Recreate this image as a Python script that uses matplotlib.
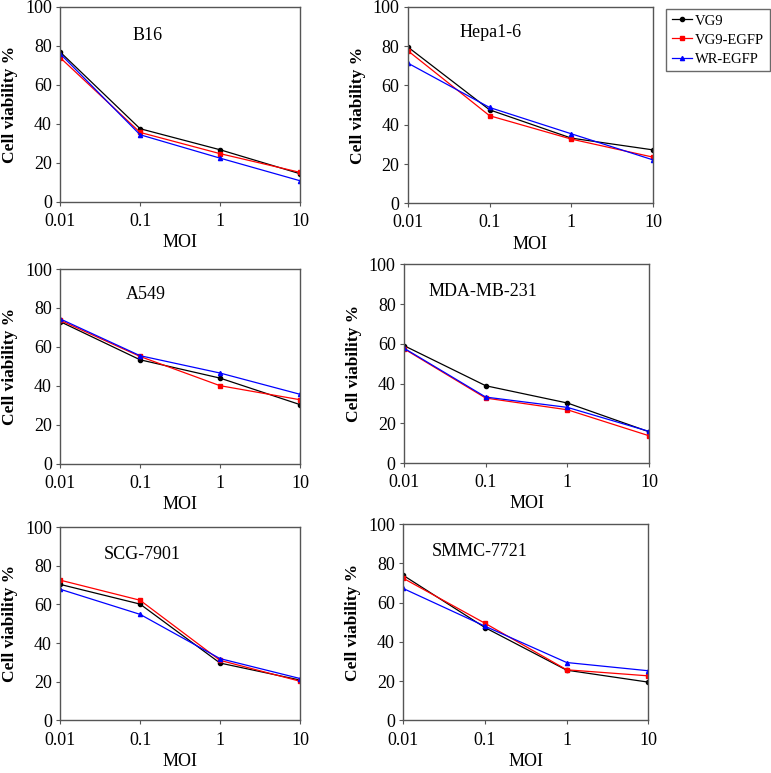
import matplotlib
matplotlib.use("Agg")
import matplotlib.pyplot as plt
from matplotlib.lines import Line2D

plt.rcParams['font.family'] = ['Liberation Serif', 'DejaVu Serif']

moi = [0.01, 0.1, 1, 10]
moi_labels = ['0.01', '0.1', '1', '10']
series_names = ['VG9', 'VG9-EGFP', 'WR-EGFP']
series_colors = ['black', 'red', 'blue']
series_markers = ['o', 's', '^']

cell_lines = ['B16', 'Hepa1-6', 'A549', 'MDA-MB-231', 'SCG-7901', 'SMMC-7721']

# viability % for VG9, VG9-EGFP, WR-EGFP
b16 = [[76.9, 37.5, 26.7, 14.4],
       [74.0, 35.6, 24.7, 15.1],
       [76.0, 34.4, 22.4, 10.8]]
hepa = [[79.6, 47.6, 33.2, 27.2],
        [77.7, 44.6, 32.7, 23.5],
        [71.4, 48.8, 35.4, 22.1]]
a549 = [[73.0, 53.4, 44.0, 30.4],
        [73.7, 55.1, 40.1, 32.9],
        [74.4, 55.5, 46.6, 35.7]]
mda = [[59.1, 38.9, 30.2, 15.7],
       [57.5, 32.7, 26.8, 13.7],
       [57.8, 33.2, 28.0, 15.9]]
scg = [[70.4, 60.2, 29.7, 20.9],
       [72.6, 62.2, 31.1, 20.3],
       [67.9, 54.9, 32.0, 21.7]]
smmc = [[73.9, 47.3, 25.6, 19.5],
        [72.4, 49.5, 25.8, 22.7],
        [67.2, 48.0, 29.5, 25.3]]
panel_data = [b16, hepa, a549, mda, scg, smmc]

# axes rectangles (figure fraction) and label anchor (axes fraction)
rects = [[0.078, 0.739, 0.311, 0.252],
         [0.529, 0.737, 0.318, 0.254],
         [0.078, 0.400, 0.311, 0.252],
         [0.524, 0.401, 0.318, 0.257],
         [0.078, 0.068, 0.311, 0.250],
         [0.523, 0.068, 0.318, 0.254]]
label_pos = [(0.30, 0.856), (0.21, 0.87), (0.275, 0.867),
             (0.098, 0.864), (0.183, 0.86), (0.118, 0.86)]

fig = plt.figure(figsize=(7.71, 7.73), dpi=100)

for k in range(6):
    ax = fig.add_axes(rects[k])
    for vals, c, m in zip(panel_data[k], series_colors, series_markers):
        ax.plot(moi, vals, color=c, marker=m, markersize=3, linewidth=0.9)
    ax.set_xscale('log')
    ax.set_xlim(0.01, 10)
    ax.set_ylim(0, 100)
    ax.set_xticks(moi)
    ax.set_xticklabels(moi_labels)
    ax.minorticks_off()
    ax.set_yticks([0, 20, 40, 60, 80, 100])
    ax.tick_params(labelsize=13, length=3, width=0.8, color='#555555')
    ax.tick_params(axis='x', pad=5)
    ax.tick_params(axis='y', pad=3)
    for s in ax.spines.values():
        s.set_color('#555555')
        s.set_linewidth(1.0)
    ax.set_xlabel('MOI', fontsize=13, labelpad=3)
    ax.set_ylabel('Cell viability %', fontsize=12.5, fontweight='bold', labelpad=5)
    ax.text(label_pos[k][0], label_pos[k][1], cell_lines[k], transform=ax.transAxes,
            fontsize=13, ha='left', va='center')

handles = [Line2D([], [], color=c, marker=m, markersize=3, linewidth=0.9)
           for c, m in zip(series_colors, series_markers)]
fig.legend(handles, series_names, loc='upper right', bbox_to_anchor=(0.999, 0.989),
           fontsize=10.5, frameon=True, fancybox=False, edgecolor='#444444',
           handlelength=1.4, borderpad=0.4, labelspacing=0.4, handletextpad=0.2,
           borderaxespad=0.0)

plt.savefig('out.png', dpi=100)
